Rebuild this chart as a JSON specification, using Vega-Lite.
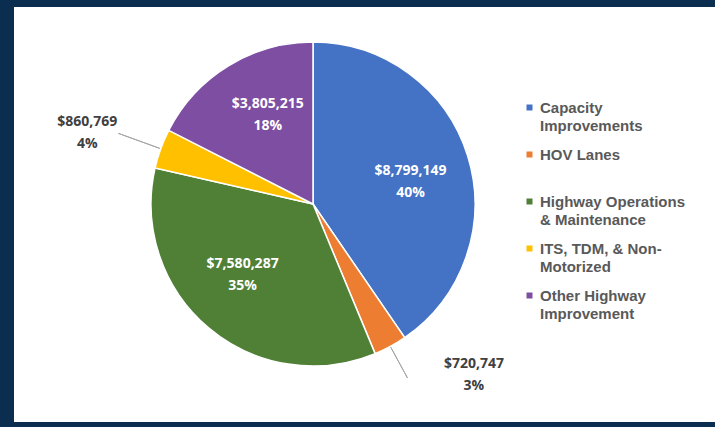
{
  "$schema": "https://vega.github.io/schema/vega-lite/v6.json",
  "background": "#0b2d4f",
  "padding": {"left": 14, "top": 7, "right": 0, "bottom": 5},
  "spacing": 0,
  "config": {
    "view": {"fill": "white", "stroke": null},
    "concat": {"spacing": 0},
    "style": {"guide-label": {"lineHeight": 18}}
  },
  "data": {
    "values": [
      {"Category": "Capacity Improvements", "Amount": 8799149, "Label": "$8,799,149\n40%"},
      {"Category": "HOV Lanes", "Amount": 720747, "Label": "$720,747\n3%"},
      {"Category": "Highway Operations & Maintenance", "Amount": 7580287, "Label": "$7,580,287\n35%"},
      {"Category": "ITS, TDM, & Non-Motorized", "Amount": 860769, "Label": "$860,769\n4%"},
      {"Category": "Other Highway Improvement", "Amount": 3805215, "Label": "$3,805,215\n18%"}
    ]
  },
  "hconcat": [
    {
      "spacing": 0,
      "bounds": "flush",
      "vconcat": [
        {
          "width": 598,
          "height": 394,
          "view": {"fill": "white", "stroke": null},
          "layer": [
            {
              "mark": {"type": "arc", "outerRadius": 162, "stroke": "white", "strokeWidth": 1.5},
              "encoding": {
                "theta": {"field": "Amount", "type": "quantitative", "stack": true},
                "order": {"field": "Category", "type": "ordinal", "sort": "ascending"},
                "color": {
                  "field": "Category",
                  "type": "nominal",
                  "scale": {
                    "domain": ["Capacity Improvements", "HOV Lanes", "Highway Operations & Maintenance", "ITS, TDM, & Non-Motorized", "Other Highway Improvement"],
                    "range": ["#4472C4", "#ED7D31", "#4F8036", "#FFC000", "#7D4EA2"]
                  },
                  "legend": {
                    "orient": "none",
                    "legendX": 508,
                    "legendY": 93,
                    "title": null,
                    "symbolType": "square",
                    "symbolSize": 36,
                    "symbolStrokeWidth": 0,
                    "labelFont": "Liberation Sans",
                    "labelFontWeight": "bold",
                    "labelFontSize": 15,
                    "labelColor": "#595959",
                    "labelLimit": 0,
                    "labelOffset": 3,
                    "gridAlign": "all",
                    "rowPadding": 13,
                    "padding": 0,
                    "labelExpr": "datum.label == 'Capacity Improvements' ? ['Capacity', 'Improvements'] : datum.label == 'Highway Operations & Maintenance' ? ['Highway Operations', '& Maintenance'] : datum.label == 'ITS, TDM, & Non-Motorized' ? ['ITS, TDM, & Non-', 'Motorized'] : datum.label == 'Other Highway Improvement' ? ['Other Highway', 'Improvement'] : datum.label"
                  }
                }
              }
            },
            {
              "mark": {"type": "arc", "radius": 207, "radius2": 163, "padAngle": 3, "fillOpacity": 0, "stroke": "#a6a6a6", "strokeWidth": 1},
              "encoding": {
                "theta": {"field": "Amount", "type": "quantitative", "stack": true},
                "order": {"field": "Category", "type": "ordinal", "sort": "ascending"},
                "detail": {"field": "Category", "type": "nominal"},
                "strokeOpacity": {"condition": {"test": "datum.Category == 'ITS, TDM, & Non-Motorized'", "value": 1}, "value": 0}
              }
            },
            {
              "mark": {"type": "arc", "radius": 198, "radius2": 163, "padAngle": 3, "fillOpacity": 0, "stroke": "#a6a6a6", "strokeWidth": 1},
              "encoding": {
                "theta": {"field": "Amount", "type": "quantitative", "stack": true},
                "order": {"field": "Category", "type": "ordinal", "sort": "ascending"},
                "detail": {"field": "Category", "type": "nominal"},
                "strokeOpacity": {"condition": {"test": "datum.Category == 'HOV Lanes'", "value": 1}, "value": 0}
              }
            },
            {
              "mark": {"type": "text", "radius": 100, "thetaOffset": 0.08, "dy": -11, "font": "Open Sans", "fontWeight": "bold", "fontSize": 14, "fill": "white", "lineBreak": "\n", "lineHeight": 22, "align": "center", "baseline": "middle"},
              "encoding": {
                "theta": {"field": "Amount", "type": "quantitative", "stack": true},
                "order": {"field": "Category", "type": "ordinal", "sort": "ascending"},
                "detail": {"field": "Category", "type": "nominal"},
                "text": {"condition": {"test": "datum.Category != 'HOV Lanes' && datum.Category != 'ITS, TDM, & Non-Motorized'", "field": "Label", "type": "nominal"}, "value": ""}
              }
            },
            {
              "mark": {"type": "text", "radius": 180, "dx": 75, "dy": 2, "font": "Open Sans", "fontWeight": "bold", "fontSize": 14, "fill": "#404040", "lineBreak": "\n", "lineHeight": 22, "align": "center", "baseline": "middle"},
              "encoding": {
                "theta": {"field": "Amount", "type": "quantitative", "stack": true},
                "order": {"field": "Category", "type": "ordinal", "sort": "ascending"},
                "detail": {"field": "Category", "type": "nominal"},
                "text": {"condition": {"test": "datum.Category == 'HOV Lanes'", "field": "Label", "type": "nominal"}, "value": ""}
              }
            },
            {
              "mark": {"type": "text", "radius": 205, "dx": -33, "dy": -12, "font": "Open Sans", "fontWeight": "bold", "fontSize": 14, "fill": "#404040", "lineBreak": "\n", "lineHeight": 22, "align": "center", "baseline": "middle"},
              "encoding": {
                "theta": {"field": "Amount", "type": "quantitative", "stack": true},
                "order": {"field": "Category", "type": "ordinal", "sort": "ascending"},
                "detail": {"field": "Category", "type": "nominal"},
                "text": {"condition": {"test": "datum.Category == 'ITS, TDM, & Non-Motorized'", "field": "Label", "type": "nominal"}, "value": ""}
              }
            }
          ]
        },
        {"width": 598, "height": 21, "view": {"fill": "white", "stroke": null}, "data": {"values": []}, "mark": "point"}
      ]
    },
    {"width": 103, "height": 415, "view": {"fill": "white", "stroke": null}, "data": {"values": []}, "mark": "point"}
  ]
}
